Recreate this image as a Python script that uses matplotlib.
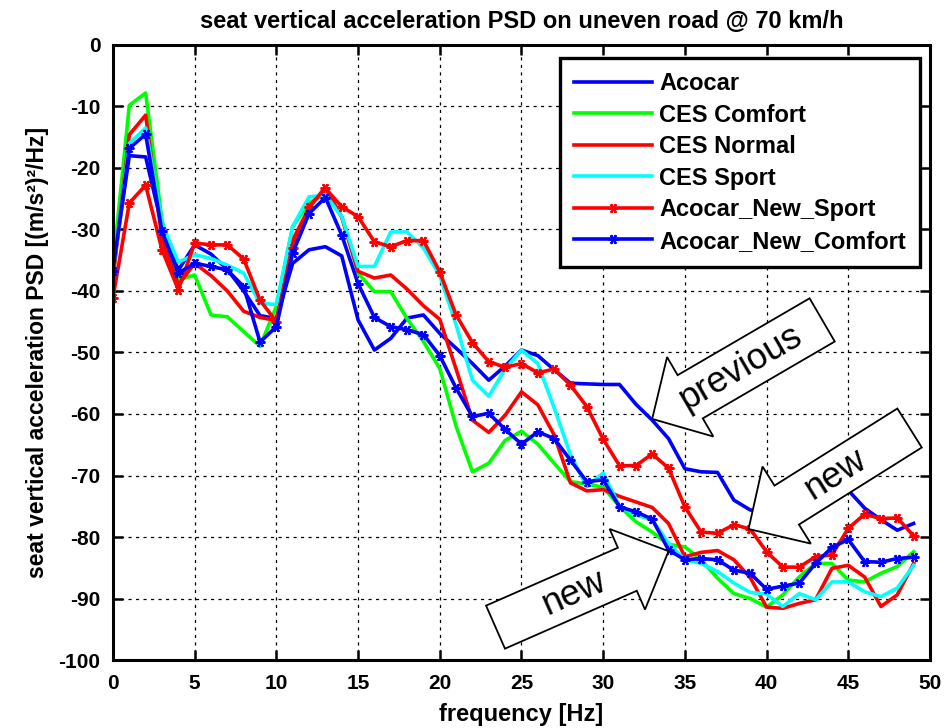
import matplotlib
matplotlib.use("Agg")
import matplotlib.pyplot as plt
import numpy as np
from matplotlib.patches import FancyArrow
from matplotlib.transforms import ScaledTranslation

# frequency axis (Hz) and PSD values, dB
freq = np.arange(0, 50)

acocar = [-36.5, -18.0, -18.2, -29.5, -36.6, -32.5, -34.0, -36.5, -40.0, -44.0,
          -44.5, -35.5, -33.3, -32.8, -34.3, -44.7, -49.6, -47.7, -44.4, -43.9,
          -46.9, -49.3, -51.8, -54.5, -52.2, -49.6, -50.5, -52.8, -55.0, -55.1,
          -55.2, -55.2, -58.4, -61.0, -64.0, -68.9, -69.4, -69.5, -74.0, -75.6,
          -76.0, -74.5, -72.5, -71.0, -70.0, -72.4, -75.3, -77.2, -78.9, -77.8]
ces_comfort = [-36.0, -9.8, -7.8, -28.5, -38.2, -37.4, -43.9, -44.2, -46.6, -49.0,
               -42.5, -29.5, -25.7, -24.1, -27.9, -37.1, -40.1, -40.1, -44.5, -48.2,
               -52.6, -62.0, -69.4, -68.0, -64.3, -62.8, -64.9, -68.0, -71.0, -71.4,
               -71.9, -75.0, -77.5, -79.2, -81.2, -81.6, -83.7, -86.7, -89.2, -90.0,
               -91.4, -89.4, -86.5, -84.3, -84.3, -87.0, -87.3, -85.9, -84.8, -82.4]
ces_normal = [-38.0, -14.6, -11.4, -31.5, -39.0, -35.5, -37.5, -40.0, -43.3, -44.3,
              -44.8, -31.7, -26.5, -23.1, -28.0, -36.8, -37.9, -37.4, -39.7, -42.4,
              -44.6, -52.7, -61.0, -63.0, -60.2, -56.4, -58.5, -63.4, -71.2, -72.5,
              -72.3, -73.4, -74.3, -75.2, -77.8, -83.2, -82.5, -82.2, -83.7, -86.6,
              -91.4, -91.6, -90.8, -90.2, -85.1, -84.6, -86.5, -91.3, -89.4, -84.3]
ces_sport = [-37.0, -16.0, -13.5, -29.0, -35.3, -34.1, -34.7, -35.8, -37.1, -42.0,
             -42.2, -29.5, -24.7, -24.4, -27.9, -36.0, -36.0, -30.4, -30.4, -33.0,
             -37.5, -45.5, -54.5, -57.1, -52.7, -49.6, -51.8, -59.0, -66.6, -71.8,
             -69.6, -75.0, -76.4, -77.2, -81.0, -83.7, -84.3, -85.6, -87.5, -89.0,
             -89.3, -91.3, -89.2, -90.2, -87.3, -87.3, -88.9, -89.7, -88.3, -84.6]
new_sport = [-41.1, -25.7, -22.8, -33.3, -39.8, -32.2, -32.5, -32.5, -34.8, -41.5,
             -45.0, -33.0, -26.3, -23.3, -26.3, -27.9, -32.0, -32.8, -31.8, -31.8,
             -36.9, -43.9, -48.4, -51.5, -52.4, -51.8, -53.3, -52.7, -55.3, -58.8,
             -64.1, -68.4, -68.4, -66.5, -68.8, -75.1, -79.2, -79.4, -78.0, -78.7,
             -82.4, -84.9, -84.9, -83.2, -82.9, -78.6, -76.3, -77.0, -76.9, -79.8]
new_comfort = [-36.8, -16.8, -14.5, -30.3, -37.1, -35.5, -36.0, -36.6, -39.3, -48.3,
               -45.8, -33.8, -27.4, -24.8, -30.9, -38.8, -44.3, -45.8, -46.3, -47.1,
               -50.5, -55.8, -60.4, -59.9, -62.5, -64.9, -62.9, -64.0, -67.5, -71.0,
               -70.7, -75.1, -75.9, -77.1, -82.1, -83.7, -83.5, -83.7, -85.4, -85.9,
               -88.5, -88.0, -87.5, -84.3, -81.7, -80.4, -84.0, -84.1, -83.5, -83.3]

series = [
    ("Acocar", acocar, "#0000ff", False),
    ("CES Comfort", ces_comfort, "#00ff00", False),
    ("CES Normal", ces_normal, "#ff0000", False),
    ("CES Sport", ces_sport, "#00ffff", False),
    ("Acocar_New_Sport", new_sport, "#ff0000", True),
    ("Acocar_New_Comfort", new_comfort, "#0000ff", True),
]

# (label, tip freq, tip PSD, tail offset [in], shaft width, head width, head length)
arrows = [
    ("previous", 33.0, -60.8, (1.70, 0.99), 0.50, 0.92, 0.44),
    ("new", 38.9, -78.7, (1.61, 1.01), 0.46, 0.91, 0.45),
    ("new", 34.0, -82.3, (-1.73, -0.76), 0.47, 0.88, 0.45),
]

plt.rcParams["axes.unicode_minus"] = False
FONT = ["Liberation Sans", "DejaVu Sans"]

fig = plt.figure(figsize=(9.47, 7.28), dpi=100)
ax = fig.add_axes([0.1193, 0.0934, 0.8627, 0.8448])

for label, values, color, marked in series:
    if marked:
        ax.plot(freq, values, color=color, linewidth=2.6, marker=(6, 2, 90),
                markersize=7, markeredgewidth=1.6, label=label)
    else:
        ax.plot(freq, values, color=color, linewidth=2.6, label=label)

ax.set_xlim(0, 50)
ax.set_ylim(-100, 0)
ax.set_xticks(np.arange(0, 51, 5))
ax.set_yticks(np.arange(-100, 1, 10))
ax.grid(True, color="black", linestyle=(0, (2.5, 3.5)), linewidth=0.9)

for spine in ax.spines.values():
    spine.set_linewidth(2.2)
ax.tick_params(direction="in", length=7, width=1.8, top=True, right=True)
ax.tick_params(axis="x", pad=10)
ax.tick_params(axis="y", pad=9)
for lab in ax.get_xticklabels() + ax.get_yticklabels():
    lab.set_family(FONT)
    lab.set_fontweight("bold")
    lab.set_fontsize(15)

ax.set_title("seat vertical acceleration PSD on uneven road @ 70 km/h",
             family=FONT, fontweight="bold", fontsize=17, pad=12.5)
ax.set_xlabel("frequency [Hz]", family=FONT, fontweight="bold", fontsize=17, labelpad=7)
ax.set_ylabel("seat vertical acceleration PSD [(m/s²)²/Hz]", family=FONT,
              fontweight="bold", fontsize=16.5, labelpad=7)

for text, fx, fy, (tx, ty), w, hw, hl in arrows:
    trans = fig.dpi_scale_trans + ScaledTranslation(fx, fy, ax.transData)
    arr = FancyArrow(tx, ty, -tx, -ty, width=w, head_width=hw, head_length=hl,
                     length_includes_head=True, facecolor="white", edgecolor="black",
                     linewidth=1.3, transform=trans, zorder=5, clip_on=False)
    ax.add_patch(arr)
    length = np.hypot(tx, ty)
    ang = np.degrees(np.arctan2(ty, tx))
    if ang > 90 or ang < -90:
        ang += 180
    cx, cy = tx / length * 1.03, ty / length * 1.03
    ax.text(cx, cy, text, transform=trans, rotation=ang, rotation_mode="anchor",
            ha="center", va="center", fontsize=26, family=FONT, zorder=6)

leg = ax.legend(loc="upper right", bbox_to_anchor=(0.988, 0.979), fancybox=False,
                framealpha=1, edgecolor="black", handlelength=3.3, handletextpad=0.3,
                labelspacing=0.36, borderpad=0.6, borderaxespad=0,
                prop={"family": FONT, "weight": "bold", "size": 17})
leg.get_frame().set_linewidth(2.4)
leg.set_zorder(10)

fig.savefig("out.png", dpi=100)
